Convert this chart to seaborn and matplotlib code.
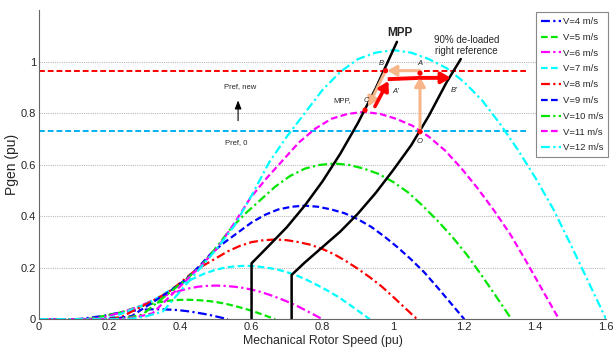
import pandas as pd
import seaborn as sns
import matplotlib.pyplot as plt

# -------------------------------
# Power curves (rotor speed pu, Pgen pu)
# -------------------------------
x_v4 = [0.0, 0.0833, 0.1, 0.1167, 0.1333, 0.15, 0.1667, 0.1833, 0.2, 0.2167, 0.2333, 0.25, 0.2667, 0.2833,
        0.3, 0.3167, 0.3333, 0.35, 0.3667, 0.3833, 0.4, 0.4167, 0.4333, 0.45, 0.4667, 0.4833, 0.5, 0.5167, 0.5333]
y_v4 = [0.0, 0.0, 0.0004, 0.0011, 0.0041, 0.007, 0.01, 0.0133, 0.0178, 0.0226, 0.0263, 0.0296, 0.033, 0.0356,
        0.0374, 0.0383, 0.0387, 0.0383, 0.0374, 0.0361, 0.0341, 0.0315, 0.0281, 0.0244, 0.0204, 0.0159, 0.0107, 0.0054, 0.0]

x_v5 = [0.0, 0.1042, 0.125, 0.1458, 0.1667, 0.1875, 0.2083, 0.2292, 0.25, 0.2708, 0.2917, 0.3125, 0.3333, 0.3542,
        0.375, 0.3958, 0.4167, 0.4375, 0.4583, 0.4792, 0.5, 0.5208, 0.5417, 0.5625, 0.5833, 0.6042, 0.625, 0.6458, 0.6667]
y_v5 = [0.0, 0.0, 0.0007, 0.0022, 0.008, 0.0137, 0.0195, 0.026, 0.0347, 0.0441, 0.0514, 0.0579, 0.0644, 0.0694,
        0.0731, 0.0749, 0.0756, 0.0749, 0.0731, 0.0705, 0.0666, 0.0615, 0.055, 0.0477, 0.0398, 0.0311, 0.021, 0.0105, 0.0]

x_v6 = [0.0, 0.125, 0.15, 0.175, 0.2, 0.225, 0.25, 0.275, 0.3, 0.325, 0.35, 0.375, 0.4, 0.425, 0.45, 0.475, 0.5,
        0.525, 0.55, 0.575, 0.6, 0.625, 0.65, 0.675, 0.7, 0.725, 0.75, 0.775, 0.8]
y_v6 = [0.0, 0.0, 0.0013, 0.0038, 0.0138, 0.0238, 0.0338, 0.045, 0.06, 0.0763, 0.0888, 0.1, 0.1113, 0.12, 0.1263,
        0.1294, 0.1306, 0.1294, 0.1263, 0.1219, 0.115, 0.1063, 0.095, 0.0825, 0.0688, 0.0538, 0.0363, 0.0181, 0.0]

x_v7 = [0.0, 0.1458, 0.175, 0.2042, 0.2333, 0.2625, 0.2917, 0.3208, 0.35, 0.3792, 0.4083, 0.4375, 0.4667, 0.4958,
        0.525, 0.5542, 0.5833, 0.6125, 0.6417, 0.6708, 0.7, 0.7292, 0.7583, 0.7875, 0.8167, 0.8458, 0.875, 0.9042, 0.9333]
y_v7 = [0.0, 0.0, 0.002, 0.006, 0.0218, 0.0377, 0.0536, 0.0715, 0.0953, 0.1211, 0.1409, 0.1588, 0.1767, 0.1906,
        0.2005, 0.2054, 0.2074, 0.2054, 0.2005, 0.1935, 0.1826, 0.1687, 0.1509, 0.131, 0.1092, 0.0854, 0.0576, 0.0288, 0.0]

x_v8 = [0.0, 0.1667, 0.2, 0.2333, 0.2667, 0.3, 0.3333, 0.3667, 0.4, 0.4333, 0.4667, 0.5, 0.5333, 0.5667, 0.6,
        0.6333, 0.6667, 0.7, 0.7333, 0.7667, 0.8, 0.8333, 0.8667, 0.9, 0.9333, 0.9667, 1.0, 1.0333, 1.0667]
y_v8 = [0.0, 0.0, 0.003, 0.0089, 0.0326, 0.0563, 0.08, 0.1067, 0.1422, 0.1807, 0.2104, 0.237, 0.2637, 0.2844,
        0.2993, 0.3067, 0.3096, 0.3067, 0.2993, 0.2889, 0.2726, 0.2519, 0.2252, 0.1956, 0.163, 0.1274, 0.0859, 0.043, 0.0]

x_v9 = [0.0, 0.1875, 0.225, 0.2625, 0.3, 0.3375, 0.375, 0.4125, 0.45, 0.4875, 0.525, 0.5625, 0.6, 0.6375, 0.675,
        0.7125, 0.75, 0.7875, 0.825, 0.8625, 0.9, 0.9375, 0.975, 1.0125, 1.05, 1.0875, 1.125, 1.1625, 1.2]
y_v9 = [0.0, 0.0, 0.0042, 0.0127, 0.0464, 0.0802, 0.1139, 0.1519, 0.2025, 0.2573, 0.2995, 0.3375, 0.3755, 0.405,
        0.4261, 0.4366, 0.4409, 0.4366, 0.4261, 0.4113, 0.3881, 0.3586, 0.3206, 0.2784, 0.232, 0.1814, 0.1223, 0.0612, 0.0]

x_v10 = [0.0, 0.208, 0.25, 0.292, 0.333, 0.375, 0.417, 0.458, 0.5, 0.542, 0.583, 0.625, 0.667, 0.708, 0.75,
         0.792, 0.833, 0.875, 0.917, 0.958, 1.0, 1.042, 1.083, 1.125, 1.167, 1.208, 1.25, 1.292, 1.333]
y_v10 = [0.0, 0.0, 0.0058, 0.0174, 0.0637, 0.11, 0.1563, 0.2083, 0.2778, 0.353, 0.4109, 0.463, 0.515, 0.5556,
         0.5845, 0.599, 0.6047, 0.599, 0.5845, 0.5642, 0.5324, 0.4919, 0.4398, 0.3819, 0.3183, 0.2488, 0.1678, 0.0839, 0.0]

x_v11 = [0.0, 0.229, 0.275, 0.321, 0.367, 0.4125, 0.458, 0.504, 0.55, 0.596, 0.642, 0.6875, 0.733, 0.779, 0.825,
         0.871, 0.917, 0.9625, 1.008, 1.054, 1.1, 1.146, 1.192, 1.2375, 1.283, 1.329, 1.375, 1.421, 1.467]
y_v11 = [0.0, 0.0, 0.0077, 0.0231, 0.0847, 0.1463, 0.208, 0.2773, 0.3697, 0.4699, 0.5469, 0.6162, 0.6855, 0.7394,
         0.778, 0.7972, 0.8049, 0.7972, 0.778, 0.751, 0.7086, 0.6547, 0.5854, 0.5084, 0.4236, 0.3312, 0.2234, 0.1117, 0.0]

x_v12 = [0.0, 0.25, 0.30, 0.35, 0.40, 0.45, 0.50, 0.55, 0.60, 0.65, 0.70, 0.75, 0.80, 0.85, 0.90, 0.95, 1.00,
         1.05, 1.10, 1.15, 1.20, 1.25, 1.30, 1.35, 1.40, 1.45, 1.50, 1.55, 1.60]
y_v12 = [0.0, 0.0, 0.01, 0.03, 0.11, 0.19, 0.27, 0.36, 0.48, 0.61, 0.71, 0.80, 0.89, 0.96, 1.01, 1.035, 1.045,
         1.035, 1.01, 0.975, 0.92, 0.85, 0.76, 0.66, 0.55, 0.43, 0.29, 0.145, 0.0]

# MPP track and 90% de-loaded track (black)
mpp_x = [0.6, 0.6, 0.65, 0.7, 0.75, 0.8, 0.85, 0.9, 0.95, 1.01]
mpp_y = [0.0, 0.217, 0.287, 0.358, 0.441, 0.535, 0.642, 0.762, 0.896, 1.077]
deload_x = [0.713, 0.713, 0.75, 0.8, 0.85, 0.9, 0.95, 1.0, 1.05, 1.1, 1.15, 1.19]
deload_y = [0.0, 0.172, 0.22, 0.28, 0.34, 0.41, 0.49, 0.58, 0.675, 0.79, 0.92, 1.01]

# reference power levels
pref_new = 0.965
pref_0 = 0.73

# operating points O, A, B, C
pt_x = [1.075, 1.075, 0.978, 0.92]
pt_y = [0.728, 0.955, 0.965, 0.812]

speeds = ["V=4 m/s", "V=5 m/s", "V=6 m/s", "V=7 m/s", "V=8 m/s",
          "V=9 m/s", "V=10 m/s", "V=11 m/s", "V=12 m/s"]
xs = [x_v4, x_v5, x_v6, x_v7, x_v8, x_v9, x_v10, x_v11, x_v12]
ys = [y_v4, y_v5, y_v6, y_v7, y_v8, y_v9, y_v10, y_v11, y_v12]
colors = ["#0000ff", "#00e600", "#ff00ff", "#00ffff", "#ff0000",
          "#0000ff", "#00e600", "#ff00ff", "#00ffff"]
dashdot = (4, 1.5, 1, 1.5)
dashed = (3, 1.5)

sns.set_style("white")
narrow = ["Liberation Sans Narrow", "Liberation Sans", "DejaVu Sans"]
plt.rcParams["font.family"] = narrow

fig = plt.figure(figsize=(6.16, 3.5), dpi=100)
ax = fig.add_axes([0.063, 0.088, 0.921, 0.883])

# horizontal reference lines
ax.plot([0, 1.374], [pref_new, pref_new], color="#ff0000", lw=1.4, dashes=(3, 1.5))
ax.plot([0, 1.374], [pref_0, pref_0], color="#00b0f0", lw=1.4, dashes=(3, 1.5))

for i, name in enumerate(speeds):
    df = pd.DataFrame({"speed": xs[i], "pgen": ys[i]})
    line = sns.lineplot(data=df, x="speed", y="pgen", ax=ax, color=colors[i], lw=1.6,
                        estimator=None, sort=False, label=name)
    line.lines[-1].set_dashes(dashdot if i % 2 == 0 else dashed)

sns.lineplot(x=mpp_x, y=mpp_y, ax=ax, color="black", lw=1.8, estimator=None, sort=False)
sns.lineplot(x=deload_x, y=deload_y, ax=ax, color="black", lw=1.8, estimator=None, sort=False)

# arrows of the operating point path
peach = "#f7b58a"
arw = dict(arrowstyle="-|>,head_length=0.6,head_width=0.35", shrinkA=0, shrinkB=0, mutation_scale=9)
ax.annotate("", xy=(1.075, 0.94), xytext=(1.075, 0.728), arrowprops=dict(color=peach, lw=2.2, **arw))
ax.annotate("", xy=(0.983, 0.965), xytext=(1.075, 0.965), arrowprops=dict(color=peach, lw=2.2, **arw))
ax.annotate("", xy=(0.929, 0.826), xytext=(0.978, 0.965), arrowprops=dict(color=peach, lw=2.2, **arw))
ax.annotate("", xy=(0.986, 0.925), xytext=(0.948, 0.826), arrowprops=dict(color="#ff0000", lw=2.6, **arw))
ax.plot([0.984, 1.075], [0.932, 0.937], color="#ff0000", lw=2.8, solid_capstyle="butt")
ax.annotate("", xy=(1.162, 0.937), xytext=(1.075, 0.937), arrowprops=dict(color="#ff0000", lw=2.8, **arw))
ax.annotate("", xy=(0.562, 0.86), xytext=(0.562, 0.76),
            arrowprops=dict(arrowstyle="-|>,head_length=0.5,head_width=0.2", color="black", lw=0.8))

sns.scatterplot(x=pt_x, y=pt_y, ax=ax, color="#ff0000", s=14, zorder=5, edgecolor="none")

# annotations
ax.text(1.019, 1.11, "MPP", fontsize=8.5, fontweight="bold", ha="center", va="center")
ax.text(1.207, 1.062, "90% de-loaded\nright reference", fontsize=7, ha="center", va="center",
        linespacing=1.1)
ax.text(0.567, 0.903, "Pref, new", fontsize=5.5, ha="center", va="center")
ax.text(0.558, 0.686, "Pref, 0", fontsize=5.5, ha="center", va="center")
ax.text(0.857, 0.848, "MPP,", fontsize=5.5, ha="center", va="center")
for lx, ly, lt in [(0.923, 0.848, "C"), (0.967, 0.994, "B"), (1.075, 0.994, "A"),
                   (1.007, 0.886, "A'"), (1.17, 0.888, "B'"), (1.075, 0.69, "O")]:
    ax.text(lx, ly, lt, fontsize=5.5, style="italic", ha="center", va="center")

ax.set_xlim(0, 1.6)
ax.set_ylim(0, 1.2)
ax.set_xticks([0, 0.2, 0.4, 0.6, 0.8, 1.0, 1.2, 1.4, 1.6])
ax.set_xticklabels(["0", "0.2", "0.4", "0.6", "0.8", "1", "1.2", "1.4", "1.6"])
ax.set_yticks([0, 0.2, 0.4, 0.6, 0.8, 1.0])
ax.set_yticklabels(["0", "0.2", "0.4", "0.6", "0.8", "1"])
ax.tick_params(direction="in", length=4, labelsize=8, color="#555555", pad=2)
ax.yaxis.grid(True, linestyle=(0, (1, 1)), color="#bbbbbb", lw=0.8)
ax.set_xlabel("Mechanical Rotor Speed (pu)", fontsize=8.8, labelpad=2)
ax.set_ylabel("Pgen (pu)", fontsize=10, labelpad=1)
for side in ["top", "right"]:
    ax.spines[side].set_visible(False)
for side in ["left", "bottom"]:
    ax.spines[side].set_color("#666666")

leg = ax.legend(loc="upper right", bbox_to_anchor=(1.004, 0.993), borderaxespad=0, fontsize=6.8,
                handlelength=2.2, handletextpad=0.2, labelspacing=0.72, borderpad=0.5,
                fancybox=False, framealpha=1)
leg.get_frame().set_edgecolor("#888888")
leg.get_frame().set_linewidth(0.8)

fig.savefig("out.png", dpi=100)
